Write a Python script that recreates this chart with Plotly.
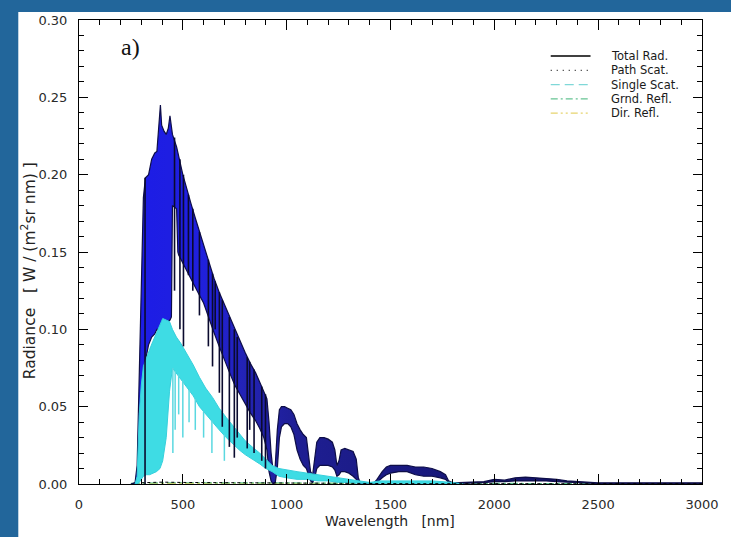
import plotly.graph_objects as go

# ---------------- data ----------------
# Total radiance: the dense line spectrum is shown as a band between its
# lower and upper envelopes (W / (m^2 sr nm)).
total_wl = [250, 270, 280, 290, 300, 310, 320, 335, 350, 365, 375, 385, 392, 398,
            410, 420, 430, 438, 445, 450, 470, 476, 480, 500, 520, 540, 560, 580,
            600, 625, 650, 675, 700, 725, 750, 775, 800, 825, 850, 870, 890, 905,
            915, 925, 935, 945, 955, 965, 975, 990, 1005, 1020, 1035, 1050, 1065,
            1080, 1095, 1105, 1115, 1125, 1135, 1145, 1160, 1180, 1200, 1220, 1232,
            1242, 1252, 1262, 1280, 1300, 1320, 1335, 1345, 1355, 1420, 1435, 1460,
            1480, 1500, 1540, 1580, 1620, 1660, 1700, 1740, 1765, 1780, 1800, 1900,
            1950, 2000, 2050, 2100, 2150, 2200, 2250, 2300, 2350, 2400, 2450, 2500,
            3000]
total_hi = [0.0, 0.001, 0.012, 0.07, 0.14, 0.185, 0.198, 0.200, 0.210, 0.214, 0.215,
            0.230, 0.245, 0.232, 0.228, 0.226, 0.230, 0.238, 0.228, 0.226, 0.218,
            0.215, 0.212, 0.200, 0.190, 0.181, 0.172, 0.163, 0.155, 0.144, 0.133,
            0.124, 0.116, 0.108, 0.100, 0.092, 0.085, 0.078, 0.072, 0.066, 0.060,
            0.055, 0.040, 0.020, 0.008, 0.012, 0.035, 0.048, 0.050, 0.050, 0.049,
            0.048, 0.045, 0.039, 0.035, 0.032, 0.030, 0.018, 0.008, 0.006, 0.015,
            0.027, 0.030, 0.030, 0.029, 0.027, 0.022, 0.012, 0.015, 0.022, 0.023,
            0.022, 0.021, 0.016, 0.004, 0.0005, 0.0005, 0.003, 0.008, 0.011, 0.012,
            0.012, 0.012, 0.011, 0.011, 0.010, 0.008, 0.006, 0.002, 0.0008, 0.001,
            0.0015, 0.003, 0.0025, 0.004, 0.0045, 0.004, 0.0035, 0.003, 0.002,
            0.0015, 0.001, 0.0008, 0.0008]
total_lo = [0.0, 0.0, 0.0, 0.003, 0.03, 0.06, 0.08, 0.09, 0.095, 0.097, 0.100,
            0.100, 0.100, 0.100, 0.102, 0.104, 0.105, 0.106, 0.108, 0.180, 0.178,
            0.150, 0.148, 0.142, 0.137, 0.132, 0.127, 0.122, 0.117, 0.108, 0.098,
            0.089, 0.080, 0.072, 0.064, 0.058, 0.052, 0.046, 0.041, 0.036, 0.030,
            0.022, 0.008, 0.002, 0.0, 0.001, 0.010, 0.030, 0.037, 0.039, 0.039,
            0.037, 0.032, 0.022, 0.016, 0.012, 0.010, 0.006, 0.002, 0.001, 0.004,
            0.010, 0.012, 0.012, 0.012, 0.011, 0.009, 0.005, 0.006, 0.008, 0.008,
            0.007, 0.005, 0.003, 0.001, 0.0, 0.0, 0.001, 0.004, 0.006, 0.007,
            0.008, 0.008, 0.006, 0.005, 0.005, 0.004, 0.003, 0.001, 0.0003, 0.0005,
            0.0008, 0.0015, 0.0015, 0.002, 0.002, 0.002, 0.002, 0.0015, 0.001,
            0.0008, 0.0005, 0.0003, 0.0003]

# Strong absorption lines reaching below the band: wavelength, top, bottom
line_wl = [318, 460, 486, 503, 527, 548, 580, 623, 643, 656, 676, 690, 724, 748,
           762, 810, 822, 843, 880, 898]
line_top = [0.198, 0.224, 0.210, 0.200, 0.187, 0.178, 0.163, 0.145, 0.136, 0.131,
            0.124, 0.119, 0.108, 0.100, 0.095, 0.082, 0.079, 0.074, 0.063, 0.058]
line_bot = [0.0, 0.125, 0.100, 0.089, 0.135, 0.125, 0.109, 0.089, 0.076, 0.100,
            0.059, 0.037, 0.024, 0.017, 0.030, 0.023, 0.035, 0.020, 0.015, 0.010]

# Single scattering contribution (band envelopes)
single_wl = [270, 280, 290, 300, 310, 325, 340, 355, 373, 390, 403, 420, 436, 450,
             469, 490, 517, 550, 580, 610, 643, 675, 709, 740, 772, 800, 834, 870,
             900, 930, 963, 1000, 1050, 1100, 1150, 1200, 1250, 1300, 1340, 1400,
             1450, 1500, 1600, 1700, 1800, 1850]
single_hi = [0.0, 0.005, 0.045, 0.064, 0.076, 0.082, 0.087, 0.092, 0.098, 0.103,
             0.107, 0.106, 0.105, 0.100, 0.095, 0.091, 0.085, 0.077, 0.069, 0.062,
             0.056, 0.049, 0.043, 0.038, 0.033, 0.028, 0.024, 0.020, 0.016, 0.012,
             0.010, 0.009, 0.008, 0.007, 0.006, 0.005, 0.004, 0.003, 0.002, 0.001,
             0.002, 0.002, 0.002, 0.002, 0.001, 0.0]
single_lo = [0.0, 0.0, 0.001, 0.003, 0.005, 0.006, 0.006, 0.007, 0.008, 0.010,
             0.015, 0.030, 0.060, 0.075, 0.072, 0.068, 0.063, 0.057, 0.050, 0.045,
             0.040, 0.035, 0.030, 0.026, 0.022, 0.019, 0.016, 0.013, 0.010, 0.008,
             0.005, 0.004, 0.003, 0.003, 0.002, 0.002, 0.001, 0.001, 0.0005, 0.0005,
             0.0005, 0.0005, 0.0005, 0.0005, 0.0003, 0.0]

# Faint streaks of the single-scattering spectrum below its band
streak_wl = [452, 463, 480, 500, 530, 560, 600, 640, 700]
streak_top = [0.075, 0.073, 0.071, 0.067, 0.061, 0.055, 0.047, 0.041, 0.032]
streak_bot = [0.020, 0.035, 0.045, 0.030, 0.040, 0.035, 0.030, 0.020, 0.015]

# Small contributions close to zero
path_wl = [300, 400, 500, 700, 1000, 1300, 1600, 2000, 2500, 3000]
path_val = [0.0008, 0.0012, 0.001, 0.0008, 0.0005, 0.0003, 0.0002, 0.0002, 0.0001, 0.0001]
grnd_wl = [250, 400, 600, 800, 1000, 1300, 1600, 1800, 2200, 2600, 3000]
grnd_val = [0.0004, 0.0008, 0.0008, 0.0007, 0.0006, 0.0004, 0.0004, 0.0003, 0.0003, 0.0002, 0.0002]
dir_wl = [250, 400, 600, 800, 1000, 1300, 1600, 1800, 2200, 2600, 3000]
dir_val = [0.0002, 0.0004, 0.0004, 0.0003, 0.0003, 0.0002, 0.0002, 0.0001, 0.0001, 0.0001, 0.0001]

legend_labels = ["Total Rad.", "Path Scat.", "Single Scat.", "Grnd. Refl.", "Dir. Refl."]
x_ticks = [0, 500, 1000, 1500, 2000, 2500, 3000]
y_ticks = [0.00, 0.05, 0.10, 0.15, 0.20, 0.25, 0.30]

# ---------------- layout geometry ----------------
W, H = 731, 537
ML, MR, MT, MB = 79, 26, 20, 53
PW, PH = W - ML - MR, H - MT - MB


def pxx(px):
    return (px - ML) / PW


def pxy(py):
    return (H - MB - py) / PH


def segments(xs, tops, bots):
    sx, sy = [], []
    for x, t, b in zip(xs, tops, bots):
        sx += [x, x, None]
        sy += [t, b, None]
    return sx, sy


fig = go.Figure()

fig.add_trace(go.Scatter(x=dir_wl, y=dir_val, mode="lines", name="Dir. Refl.",
                         line=dict(color="#e8d66a", width=1.2, dash="dashdot")))
fig.add_trace(go.Scatter(x=grnd_wl, y=grnd_val, mode="lines", name="Grnd. Refl.",
                         line=dict(color="#5cc48c", width=1.2, dash="dashdot")))

# Total radiance band
fig.add_trace(go.Scatter(
    x=total_wl + total_wl[::-1], y=total_hi + total_lo[::-1],
    mode="lines", fill="toself", name="Total Rad.",
    fillgradient=dict(type="horizontal",
                      colorscale=[[0, "#1c1ce8"], [0.13, "#2020dc"], [0.2, "#2323b4"],
                                  [0.3, "#1e1e92"], [0.55, "#18187a"], [1, "#101050"]]),
    line=dict(color="#0e0e48", width=1.2)))

# Single scattering band
fig.add_trace(go.Scatter(
    x=single_wl + single_wl[::-1], y=single_hi + single_lo[::-1],
    mode="lines", fill="toself", name="Single Scat.",
    fillcolor="#3edce4", line=dict(color="#36d0dc", width=1.0)))

sx, sy = segments(streak_wl, streak_top, streak_bot)
fig.add_trace(go.Scatter(x=sx, y=sy, mode="lines", showlegend=False,
                         line=dict(color="#5ad8e0", width=1.5)))

lx, ly = segments(line_wl, line_top, line_bot)
fig.add_trace(go.Scatter(x=lx, y=ly, mode="lines", showlegend=False,
                         line=dict(color="#0a0a2e", width=1.6)))

fig.add_trace(go.Scatter(x=path_wl, y=path_val, mode="lines", name="Path Scat.",
                         line=dict(color="#000000", width=1, dash="dot")))

# empty trace that activates the mirrored top/right axes
fig.add_trace(go.Scatter(x=[], y=[], xaxis="x2", yaxis="y2", showlegend=False))

axis_font = dict(family="DejaVu Sans", size=13, color="#2a2a2a")
x_common = dict(range=[0, 3000], tickvals=x_ticks, ticks="inside", ticklen=10,
                tickwidth=1, tickcolor="black",
                minor=dict(dtick=100, ticks="inside", ticklen=5, tickcolor="black"),
                showline=True, linecolor="black", linewidth=1,
                showgrid=False, zeroline=False)
y_common = dict(range=[0, 0.30], tickvals=y_ticks, ticks="inside", ticklen=9,
                tickwidth=1, tickcolor="black",
                minor=dict(dtick=0.01, ticks="inside", ticklen=5, tickcolor="black"),
                showline=True, linecolor="black", linewidth=1,
                showgrid=False, zeroline=False)

fig.update_layout(
    xaxis=dict(**x_common, ticktext=[str(v) for v in x_ticks], tickfont=axis_font,
               ticklabelstandoff=8),
    yaxis=dict(**y_common, tickformat=".2f", tickfont=axis_font, ticklabelstandoff=8),
    xaxis2=dict(**x_common, overlaying="x", side="top", anchor="y2",
                showticklabels=False),
    yaxis2=dict(**y_common, overlaying="y", side="right", anchor="x2",
                showticklabels=False),
)

shapes = [
    # white page behind the chart
    dict(type="rect", xref="paper", yref="paper", layer="below",
         x0=pxx(18), x1=pxx(W + 20), y0=pxy(H + 20), y1=pxy(12),
         fillcolor="white", line=dict(width=0)),
]

# legend drawn in IDL style: short line samples followed by labels
legend_styles = [("#000000", "solid", 1.3), ("#222222", "1px,5px", 1.3),
                 ("#7fd8d8", "9px,5px", 1.3), ("#66c493", "7px,3px,2px,3px", 1.3),
                 ("#e6d36e", "7px,3px,2px,3px,2px,3px", 1.3)]
annotations = []
for i, (label, (col, dash, wdt)) in enumerate(zip(legend_labels, legend_styles)):
    ry = 56 + i * 14.3
    shapes.append(dict(type="line", xref="paper", yref="paper",
                       x0=pxx(553), x1=pxx(593), y0=pxy(ry), y1=pxy(ry),
                       line=dict(color=col, width=wdt, dash=dash)))
    annotations.append(dict(xref="paper", yref="paper", x=pxx(612), y=pxy(ry),
                            text=label, showarrow=False, xanchor="left",
                            yanchor="middle",
                            font=dict(family="DejaVu Sans", size=11.5, color="#1a1a1a")))

annotations += [
    dict(xref="paper", yref="paper", x=pxx(131), y=pxy(47), text="a)",
         showarrow=False, xanchor="center", yanchor="middle",
         font=dict(family="Liberation Serif", size=24, color="#111111")),
    dict(xref="paper", yref="paper", x=pxx(391), y=pxy(521), text="Wavelength   [nm]",
         showarrow=False, xanchor="center", yanchor="middle",
         font=dict(family="DejaVu Sans", size=14, color="#222222")),
    dict(xref="paper", yref="paper", x=pxx(28), y=pxy(271),
         text="Radiance   [ W / (m<sup>2</sup>sr nm) ]", textangle=-90,
         showarrow=False, xanchor="center", yanchor="middle",
         font=dict(family="DejaVu Sans", size=15.5, color="#222222")),
]

fig.update_layout(
    width=W, height=H,
    margin=dict(l=ML, r=MR, t=MT, b=MB, pad=0),
    paper_bgcolor="#22669b", plot_bgcolor="white",
    showlegend=False, shapes=shapes, annotations=annotations,
)

fig.write_html("out.html")
